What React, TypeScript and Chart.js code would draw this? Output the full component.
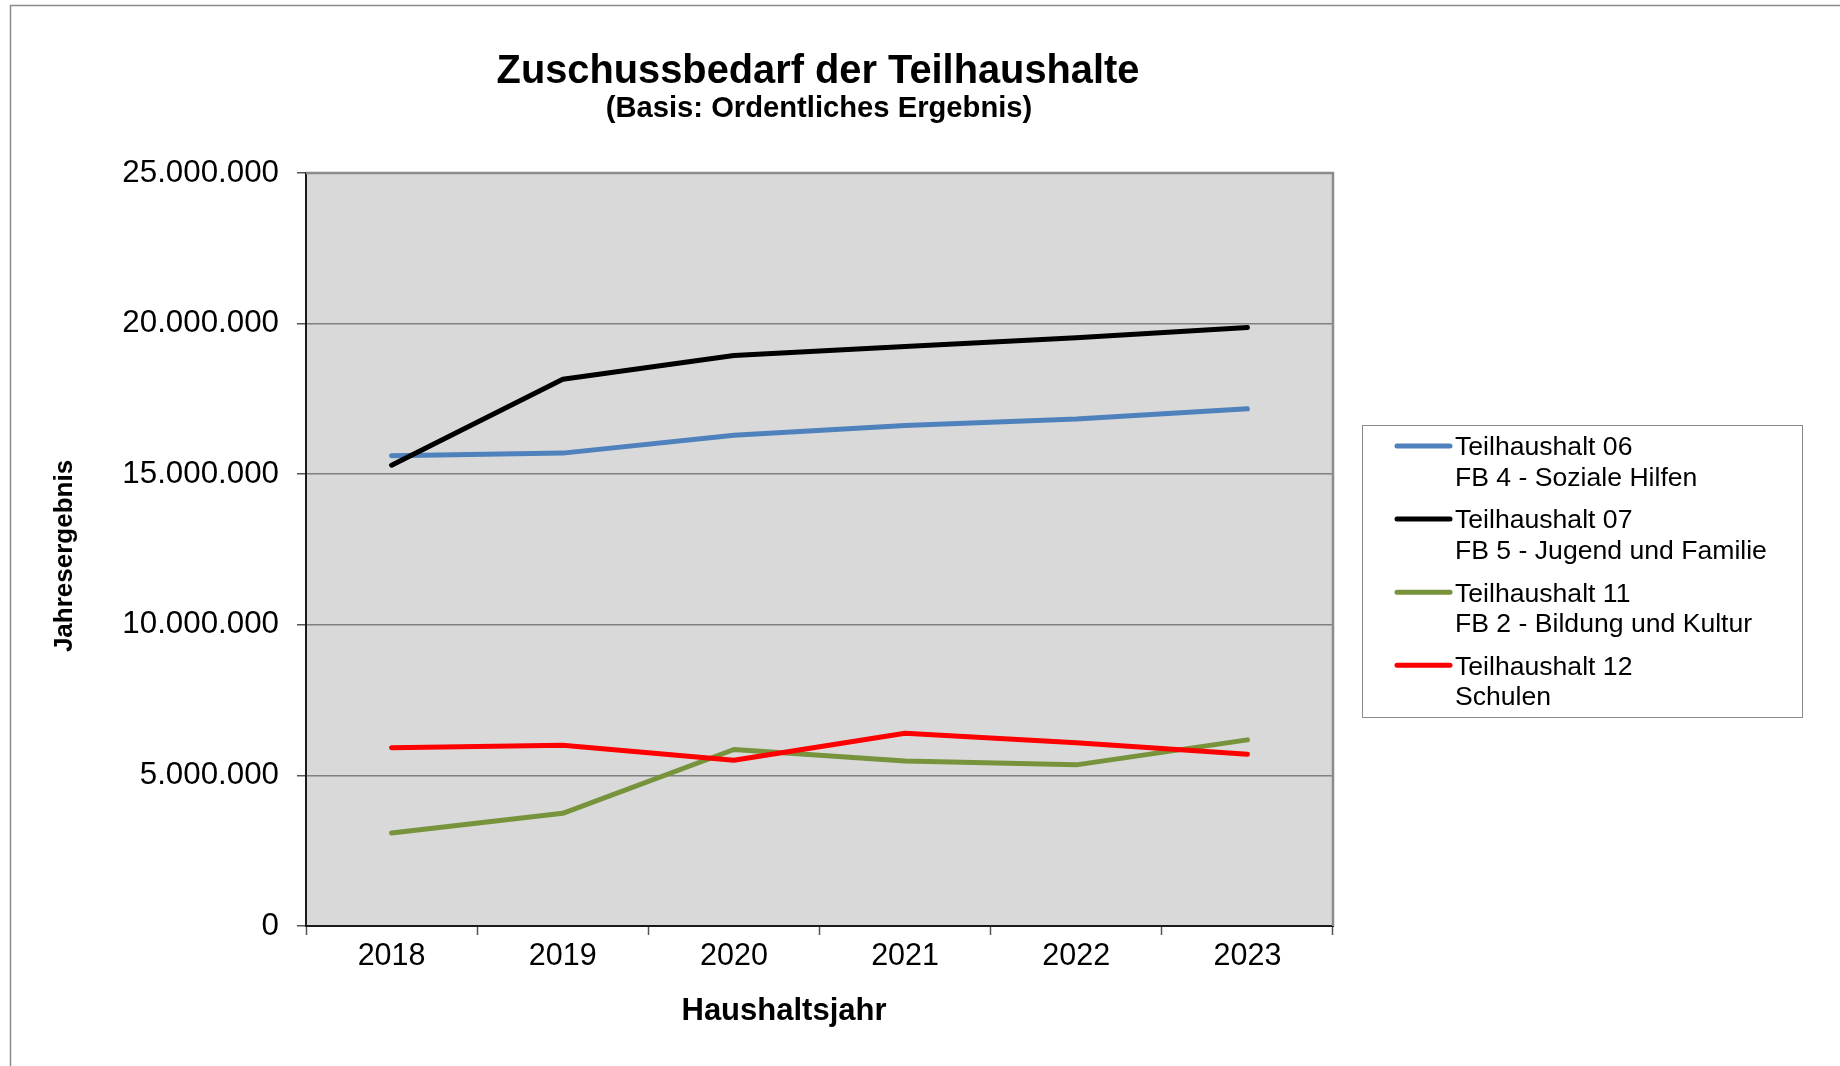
import React, { useEffect, useRef } from 'react';
import { Chart, registerables } from 'chart.js';

Chart.register(...registerables);

// ---------- data ----------
const years = ['2018', '2019', '2020', '2021', '2022', '2023'];
const seriesNames = ['Teilhaushalt 06', 'Teilhaushalt 07', 'Teilhaushalt 11', 'Teilhaushalt 12'];
const seriesSubtitles = ['FB 4 - Soziale Hilfen', 'FB 5 - Jugend und Familie', 'FB 2 - Bildung und Kultur', 'Schulen'];
const th06 = [15610000, 15700000, 16290000, 16620000, 16830000, 17170000];
const th07 = [15300000, 18150000, 18940000, 19240000, 19530000, 19870000];
const th11 = [3090000, 3740000, 5860000, 5480000, 5350000, 6180000];
const th12 = [5920000, 6000000, 5500000, 6400000, 6080000, 5700000];
const seriesColors = ['#4F81BD', '#000000', '#77933C', '#FF0000'];
const yMin = 0;
const yMax = 25000000;
const yStep = 5000000;
const chartTitle = 'Zuschussbedarf der Teilhaushalte';
const chartSubtitle = '(Basis: Ordentliches Ergebnis)';
const xAxisTitle = 'Haushaltsjahr';
const yAxisTitle = 'Jahresergebnis';

const FONT = '"Liberation Sans", Arial, Helvetica, sans-serif';

const fmt = (v: number) => String(Math.round(v)).replace(/\B(?=(\d{3})+(?!\d))/g, '.');

const decorPlugin = {
  id: 'decor',
  beforeDraw(chart: any) {
    const { ctx, chartArea: a, width, height } = chart;
    ctx.save();
    ctx.fillStyle = '#ffffff';
    ctx.fillRect(0, 0, width, height);
    ctx.fillStyle = '#d9d9d9';
    ctx.fillRect(a.left, a.top, a.right - a.left, a.bottom - a.top);
    // outer frame (top + left)
    ctx.strokeStyle = '#8a8a8a';
    ctx.lineWidth = 1.5;
    ctx.beginPath();
    ctx.moveTo(10.5, height);
    ctx.lineTo(10.5, 5.5);
    ctx.lineTo(width, 5.5);
    ctx.stroke();
    ctx.restore();
  },
  afterDraw(chart: any) {
    const { ctx, chartArea: a } = chart;
    ctx.save();
    // plot area top / right border
    ctx.strokeStyle = '#8c8c8c';
    ctx.lineWidth = 2.5;
    ctx.beginPath();
    ctx.moveTo(a.left, a.top);
    ctx.lineTo(a.right, a.top);
    ctx.lineTo(a.right, a.bottom);
    ctx.stroke();

    // titles
    ctx.fillStyle = '#000';
    ctx.textAlign = 'center';
    ctx.textBaseline = 'alphabetic';
    ctx.font = `bold 39.8px ${FONT}`;
    ctx.fillText(chartTitle, 818, 83);
    ctx.font = `bold 29.2px ${FONT}`;
    ctx.fillText(chartSubtitle, 819, 117);

    // axis titles
    ctx.textBaseline = 'middle';
    ctx.font = `bold 31px ${FONT}`;
    ctx.fillText(xAxisTitle, 784, 1011);
    ctx.save();
    ctx.translate(65, 556);
    ctx.rotate(-Math.PI / 2);
    ctx.font = `bold 26px ${FONT}`;
    ctx.fillText(yAxisTitle, 0, 0);
    ctx.restore();

    // legend
    const lx = 1362.5, ly = 425.5, lw = 440, lh = 292;
    ctx.strokeStyle = '#8a8a8a';
    ctx.lineWidth = 1;
    ctx.strokeRect(lx, ly, lw, lh);
    ctx.font = `26.6px ${FONT}`;
    ctx.textAlign = 'left';
    ctx.textBaseline = 'middle';
    chart.data.datasets.forEach((ds: any, i: number) => {
      const y = 447 + i * 73.1;
      ctx.strokeStyle = ds.borderColor;
      ctx.lineWidth = 5;
      ctx.lineCap = 'round';
      ctx.beginPath();
      ctx.moveTo(1397, y - 1);
      ctx.lineTo(1450, y - 1);
      ctx.stroke();
      ctx.fillStyle = '#000';
      ctx.fillText(seriesNames[i], 1455, y + 1);
      ctx.fillText(seriesSubtitles[i], 1455, y + 31.5);
    });
    ctx.restore();
  },
};

export default function App() {
  const canvasRef = useRef<HTMLCanvasElement | null>(null);

  useEffect(() => {
    if (!canvasRef.current) return;
    const seriesData = [th06, th07, th11, th12];
    const chart = new Chart(canvasRef.current, {
      type: 'line',
      data: {
        labels: years,
        datasets: seriesData.map((d, i) => ({
          label: `${seriesNames[i]} ${seriesSubtitles[i]}`,
          data: d,
          borderColor: seriesColors[i],
          backgroundColor: seriesColors[i],
          borderWidth: 5,
          pointRadius: 0,
          pointHoverRadius: 0,
          tension: 0,
          fill: false,
          borderCapStyle: 'round' as const,
          borderJoinStyle: 'round' as const,
          order: 10 - i,
        })),
      },
      options: {
        responsive: false,
        maintainAspectRatio: false,
        animation: false,
        devicePixelRatio: 1,
        events: [],
        layout: { padding: { left: 0, top: 173, right: 507, bottom: 0 } },
        plugins: {
          legend: { display: false },
          title: { display: false },
          tooltip: { enabled: false },
        },
        scales: {
          x: {
            offset: true,
            ticks: {
              padding: 3,
              color: '#000',
              font: { family: FONT, size: 30.5 },
              maxRotation: 0,
              autoSkip: false,
            },
            grid: {
              offset: true,
              drawOnChartArea: false,
              drawTicks: true,
              tickLength: 9,
              tickColor: '#555555',
              tickWidth: 1.5,
            },
            border: { color: '#1a1a1a', width: 2 },
            afterFit: (s: any) => {
              s.height = 140;
            },
          },
          y: {
            min: yMin,
            max: yMax,
            ticks: {
              stepSize: yStep,
              padding: 18,
              color: '#000',
              font: { family: FONT, size: 31.3 },
              callback: (v: any) => fmt(Number(v)),
            },
            grid: {
              color: (c: any) => (c.tick && c.tick.value === 0 ? 'rgba(0,0,0,0)' : '#808080'),
              lineWidth: 1.5,
              tickLength: 9,
              tickColor: '#555555',
              tickWidth: 1.5,
            },
            border: { color: '#1a1a1a', width: 2 },
            afterFit: (s: any) => {
              s.width = 306;
            },
          },
        },
      },
      plugins: [decorPlugin],
    });
    return () => chart.destroy();
  }, []);

  return (
    <div style={{ position: 'absolute', left: 0, top: 0, width: 1840, height: 1066, background: '#fff' }}>
      <canvas ref={canvasRef} width={1840} height={1066} style={{ display: 'block', width: 1840, height: 1066 }} />
    </div>
  );
}
